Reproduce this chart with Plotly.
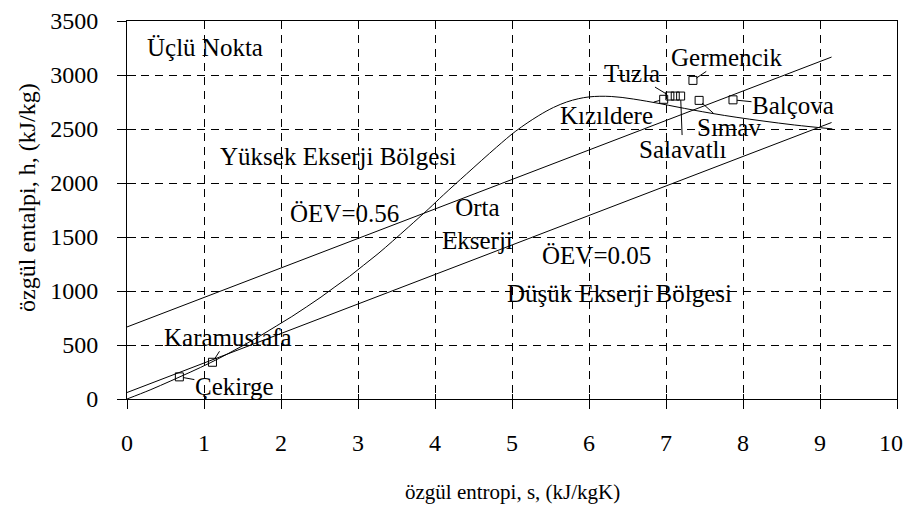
import plotly.graph_objects as go

# ---- data ----
# saturation curve (h-s dome)
s_dome = [0, 0.30, 0.57, 0.83, 1.08, 1.31, 1.53, 1.74, 1.94, 2.14, 2.33, 2.52, 2.70, 2.89,
          3.07, 3.26, 3.45, 3.66, 3.92, 4.11, 4.41, 4.80, 5.05, 5.34, 5.54, 5.71, 5.86,
          6.00, 6.14, 6.29, 6.43, 6.58, 6.75, 6.93, 7.13, 7.35, 7.61, 7.91, 8.26, 8.67, 9.16]
h_dome = [0, 84, 168, 251, 335, 419, 504, 589, 676, 763, 852, 944, 1038, 1135,
          1237, 1345, 1462, 1595, 1762, 1890, 2084, 2332, 2481, 2621, 2700, 2750, 2780,
          2797, 2803, 2801, 2792, 2777, 2757, 2734, 2706, 2676, 2643, 2609, 2574, 2537, 2501]

# ÖEV lines
s_oev056 = [0, 9.15]
h_oev056 = [667, 3166]
s_oev005 = [0, 9.15]
h_oev005 = [60, 2560]

# geothermal fields
field_names = ["Çekirge", "Karamustafa", "Kızıldere", "Tuzla", "", "Salavatlı", "Germencik", "Sımav", "Balçova"]
field_s = [0.68, 1.11, 6.97, 7.05, 7.12, 7.19, 7.35, 7.43, 7.87]
field_h = [205, 340, 2775, 2805, 2805, 2805, 2950, 2765, 2770]

x_ticks = [0, 1, 2, 3, 4, 5, 6, 7, 8, 9, 10]
x_ticktext = ["0", "1", "2", "3", "4", "5", "6", "7", "8", "9", "10\u00a0\u00a0"]
y_ticks = [0, 500, 1000, 1500, 2000, 2500, 3000, 3500]
y_ticktext = ["0", "500", "1000", "1500", "2000", "2500", "3000", "3500"]

# region labels: (text, s, h)
region_labels = [
    ("Üçlü Nokta", 1.01, 3259),
    ("Yüksek Ekserji Bölgesi", 2.74, 2250),
    ("ÖEV=0.56", 2.82, 1722),
    ("Orta<br>Ekserji", 4.55, 1620),
    ("ÖEV=0.05", 6.10, 1333),
    ("Düşük Ekserji Bölgesi", 6.40, 981),
]

# label offsets (pixels) of field names relative to their markers
label_offsets = {
    "Çekirge": (55, 10),
    "Karamustafa": (16, -25),
    "Kızıldere": (-57, 16),
    "Tuzla": (-38, -23),
    "Salavatlı": (2, 53),
    "Germencik": (34, -23),
    "Sımav": (30, 27),
    "Balçova": (60, 6),
}

FONT = "Liberation Serif, Times New Roman, Tinos, serif"
FS = 25

fig = go.Figure()
line_style = dict(color="black", width=1)
fig.add_trace(go.Scatter(x=s_dome, y=h_dome, mode="lines", line=line_style, line_shape="spline",
                         showlegend=False, hoverinfo="skip"))
fig.add_trace(go.Scatter(x=s_oev056, y=h_oev056, mode="lines", line=line_style, showlegend=False))
fig.add_trace(go.Scatter(x=s_oev005, y=h_oev005, mode="lines", line=line_style, showlegend=False))
fig.add_trace(go.Scatter(x=field_s, y=field_h, mode="markers",
                         marker=dict(symbol="square-open", size=8, color="black", line=dict(width=1)),
                         showlegend=False))

annotations = []
for name, s, h in zip(field_names, field_s, field_h):
    if not name:
        continue
    ax, ay = label_offsets[name]
    annotations.append(dict(x=s, y=h, xref="x", yref="y", text=name, showarrow=True,
                            arrowhead=0, arrowwidth=1, arrowcolor="black", ax=ax, ay=ay,
                            standoff=4, borderpad=0,
                            font=dict(family=FONT, size=FS, color="black")))
for text, s, h in region_labels:
    annotations.append(dict(x=s, y=h, xref="x", yref="y", text=text, showarrow=False,
                            font=dict(family=FONT, size=FS, color="black")))

annotations.append(dict(x=0.5, y=0, xref="paper", yref="paper", yshift=-93, showarrow=False,
                        text="özgül entropi, s, (kJ/kgK)", yanchor="middle",
                        font=dict(family=FONT, size=21, color="black")))
annotations.append(dict(x=0, y=0.532, xref="paper", yref="paper", xshift=-100, showarrow=False,
                        text="özgül entalpi, h, (kJ/kg)", textangle=-90, xanchor="center",
                        font=dict(family=FONT, size=24, color="black")))

grid = dict(showgrid=True, gridcolor="black", gridwidth=1, griddash="8px,6px")
# the page body adds an 8px offset, so the canvas is 903x503
fig.update_layout(
    width=903, height=503,
    margin=dict(l=119, r=14, t=13, b=112, autoexpand=False),
    paper_bgcolor="white", plot_bgcolor="white",
    font=dict(family=FONT, size=24, color="black"),
    annotations=annotations,
    xaxis=dict(range=[0, 10], tickvals=x_ticks, ticktext=x_ticktext, ticklabeloverflow="allow",
               showline=True, linecolor="black", linewidth=1, mirror=True, automargin=False,
               ticks="outside", ticklen=9, tickcolor="black", ticklabelstandoff=13,
               zeroline=False, **grid),
    yaxis=dict(range=[0, 3500], tickvals=y_ticks, ticktext=y_ticktext, ticklabeloverflow="allow",
               showline=True, linecolor="black", linewidth=1, mirror=True, automargin=False,
               ticks="outside", ticklen=9, tickcolor="black", ticklabelstandoff=14,
               zeroline=False, **grid),
    xaxis2=dict(range=[0, 10], tickvals=x_ticks, overlaying="x", side="bottom", anchor="y",
                ticks="inside", ticklen=5, tickcolor="black", showticklabels=False,
                showgrid=False, zeroline=False, showline=False, automargin=False),
    yaxis2=dict(range=[0, 3500], tickvals=y_ticks, overlaying="y", side="left", anchor="x",
                ticks="inside", ticklen=9, tickcolor="black", showticklabels=False,
                showgrid=False, zeroline=False, showline=False, automargin=False),
)
# invisible trace to activate the overlay axes
fig.add_trace(go.Scatter(x=[0], y=[0], xaxis="x2", yaxis="y2", mode="markers",
                         marker=dict(opacity=0), showlegend=False, hoverinfo="skip"))

fig.write_html("out.html")
